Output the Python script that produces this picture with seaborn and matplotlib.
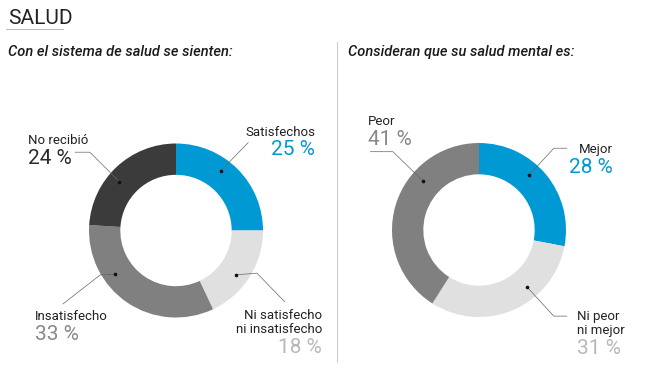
import matplotlib
matplotlib.use("Agg")
import matplotlib.pyplot as plt
import seaborn as sns
import numpy as np

# --- datos ---
sistema_labels = ["Satisfechos", "Ni satisfecho\nni insatisfecho", "Insatisfecho", "No recibió"]
sistema_vals = [25, 18, 33, 24]

mental_labels = ["Mejor", "Ni peor\nni mejor", "Peor"]
mental_vals = [28, 31, 41]

sns.set_theme(style="white")
plt.rcParams["font.family"] = ["Roboto", "DejaVu Sans"]

W, H = 648, 370
fig = plt.figure(figsize=(W / 100, H / 100), dpi=100)

BLUE = "#0099d4"
DARK = "#3b3b3b"
MID = "#808080"
LIGHT = "#e0e0e0"
R = 87  # radio en px


def donut_ax(cx, cy):
    ax = fig.add_axes([(cx - R) / W, (H - cy - R) / H, 2 * R / W, 2 * R / H])
    return ax


def draw_donut(ax, vals, colors):
    wedges, _ = ax.pie(vals, colors=colors, startangle=90, counterclock=False,
                       radius=1, wedgeprops=dict(width=0.36, linewidth=0))
    ax.set_xlim(-1, 1)
    ax.set_ylim(-1, 1)
    ax.set_aspect("equal")
    ax.axis("off")
    return wedges


def callout(ax, wedge, frac, path, lbl, pct, lbl_xy, pct_xy, ha, pct_color, lw=0.5):
    # punto dentro del anillo, a una fraccion del segmento (sentido horario)
    ang = np.deg2rad(wedge.theta2 - frac * (wedge.theta2 - wedge.theta1))
    r = 0.86
    px, py = r * np.cos(ang), r * np.sin(ang)
    xs = [px] + [p[0] for p in path]
    ys = [py] + [p[1] for p in path]
    ax.plot(xs, ys, color="#666666", lw=lw, clip_on=False)
    ax.plot(px, py, "o", color="#111111", ms=1.6, clip_on=False)
    ax.text(lbl_xy[0], lbl_xy[1], lbl, ha=ha, va="center", fontsize=9.5,
            color="#222222", linespacing=1.05)
    ax.text(pct_xy[0], pct_xy[1], f"{pct} %", ha=ha, va="center", fontsize=15,
            color=pct_color)


# --- dona izquierda ---
ax1 = donut_ax(176, 230.5)
w1 = draw_donut(ax1, sistema_vals, [BLUE, LIGHT, MID, DARK])
callout(ax1, w1[0], 0.41, [(0.83, 1.01)], sistema_labels[0], sistema_vals[0],
        (1.60, 1.13), (1.60, 0.93), "right", BLUE)
callout(ax1, w1[1], 0.56, [(0.93, -0.49), (1.25, -0.82)], sistema_labels[1], sistema_vals[1],
        (1.68, -1.06), (1.68, -1.34), "right", "#b8b8b8")
callout(ax1, w1[2], 0.67, [(-0.87, -0.51), (-1.30, -0.845)], sistema_labels[2], sistema_vals[2],
        (-1.62, -0.99), (-1.62, -1.19), "left", "#888888")
callout(ax1, w1[3], 0.43, [(-0.99, 0.90), (-1.16, 0.90)], sistema_labels[3], sistema_vals[3],
        (-1.70, 1.04), (-1.70, 0.83), "left", "#2a2a2a")

# --- dona derecha ---
ax2 = donut_ax(479, 230)
w2 = draw_donut(ax2, mental_vals, [BLUE, LIGHT, MID])
callout(ax2, w2[0], 0.42, [(0.86, 0.94), (1.01, 0.94)], mental_labels[0], mental_vals[0],
        (1.54, 0.93), (1.54, 0.72), "right", BLUE)
callout(ax2, w2[1], 0.35, [(0.86, -0.99), (1.01, -0.99)], mental_labels[1], mental_vals[1],
        (1.13, -1.075), (1.13, -1.36), "left", "#b8b8b8")
callout(ax2, w2[2], 0.67, [(-0.99, 0.90), (-1.25, 0.90)], mental_labels[2], mental_vals[2],
        (-1.28, 1.25), (-1.28, 1.04), "left", "#888888")

# --- titulos ---
def fx(px):
    return px / W


def fy(py):
    return 1 - py / H


fig.text(fx(8), fy(18), "SALUD", fontsize=15, color="#222222", va="center", ha="left")
fig.add_artist(plt.Line2D([fx(6), fx(63)], [fy(28.5), fy(28.5)], color="#bbbbbb", lw=0.8))
fig.text(fx(8), fy(52), "Con el sistema de salud se sienten:", fontsize=10.5,
         style="italic", fontweight="medium", color="#1a1a1a", va="center", ha="left")
fig.text(fx(348), fy(52), "Consideran que su salud mental es:", fontsize=10.5,
         style="italic", fontweight="medium", color="#1a1a1a", va="center", ha="left")
fig.add_artist(plt.Line2D([fx(337), fx(337)], [fy(42), fy(362)], color="#cccccc", lw=0.8))

fig.savefig("out.png", dpi=100)
